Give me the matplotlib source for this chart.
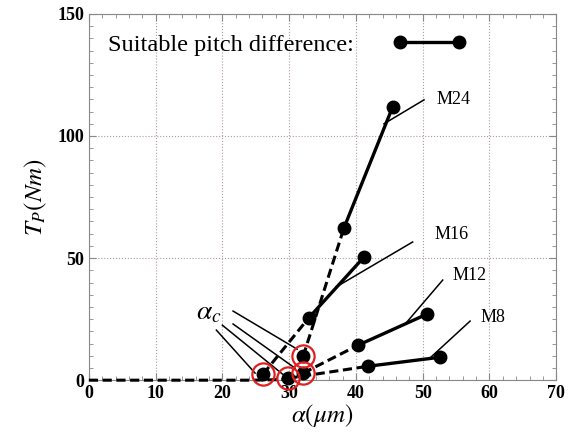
import matplotlib.pyplot as plt
from matplotlib.lines import Line2D
from matplotlib.ticker import MultipleLocator

# series data: alpha (um) and Tp (Nm)
names = ["M24", "M16", "M12", "M8"]
alpha_c = [32.1, 26.1, 32.1, 29.9]
tp_c = [9.8, 2.5, 2.9, 0.8]
alpha_pts = [[38.2, 45.5], [32.9, 41.2], [40.3, 50.6], [41.8, 52.6]]
tp_pts = [[62.3, 111.9], [25.4, 50.4], [14.3, 27.0], [5.7, 9.4]]
# thin extension lines
ext_alpha = [[44.2, 50.2], [37.0, 48.5], [47.5, 53.0], [50.9, 57.1]]
ext_tp = [[105.0, 114.8], [38.1, 56.6], [23.4, 41.0], [8.6, 24.2]]
label_pos = [(52.0, 114.8), (51.7, 59.8), (54.5, 43.0), (58.7, 25.8)]

base_alpha = [0, 24.5, 29.9]
base_tp = [0, 0, 0.3]

# alpha_c annotation lines
ann_start = [(21.6, 28.3), (21.6, 23.0), (20.0, 22.5), (19.1, 20.5)]
ann_end = [(31.2, 12.7), (30.9, 4.9), (29.0, 2.5), (24.9, 2.9)]

plt.rcParams['font.family'] = ['Liberation Serif', 'DejaVu Serif']
plt.rcParams['mathtext.fontset'] = 'stix'

fig = plt.figure(figsize=(5.77, 4.34), dpi=100)
ax = fig.add_axes([0.154, 0.124, 0.81, 0.844])

ax.plot(base_alpha, base_tp, color='black', ls=(0, (3, 1.5)), lw=2.2,
        zorder=3, clip_on=False)

for i in range(len(names)):
    ax.plot([alpha_c[i], alpha_pts[i][0]], [tp_c[i], tp_pts[i][0]],
            color='black', ls=(0, (3, 1.5)), lw=2.2, zorder=3)
    ax.plot(alpha_pts[i], tp_pts[i], color='black', lw=2.4, marker='o',
            ms=9, zorder=4)
    ax.plot(ext_alpha[i], ext_tp[i], color='black', lw=1.1, zorder=3)
    ax.plot(alpha_c[i], tp_c[i], 'o', color='black', ms=9, zorder=5,
            clip_on=False)
    ax.plot(alpha_c[i], tp_c[i], 'o', mfc='none', mec='#e02020', ms=16,
            mew=1.6, zorder=6, clip_on=False)
    ax.text(label_pos[i][0], label_pos[i][1], names[i], fontsize=13,
            va='center', ha='left')

for (x0, y0), (x1, y1) in zip(ann_start, ann_end):
    ax.plot([x0, x1], [y0, y1], color='black', lw=1.1, zorder=2)
ax.text(16.0, 27.5, r'$\alpha_c$', fontsize=20, va='center', ha='left')

ax.set_xlim(0, 70)
ax.set_ylim(0, 150)
ax.xaxis.set_major_locator(MultipleLocator(10))
ax.xaxis.set_minor_locator(MultipleLocator(2))
ax.yaxis.set_major_locator(MultipleLocator(50))
ax.yaxis.set_minor_locator(MultipleLocator(5))
ax.tick_params(which='both', direction='in', top=True, right=True,
               color='#888888')
ax.tick_params(which='major', length=5)
ax.tick_params(which='minor', length=3)
for lab in ax.get_xticklabels() + ax.get_yticklabels():
    lab.set_fontweight('bold')
    lab.set_fontsize(13)
for s in ax.spines.values():
    s.set_color('#888888')
ax.grid(True, which='major', ls=':', color='#b09a9a', lw=0.8)
ax.set_axisbelow(True)

ax.set_xlabel(r'$\alpha(\mu m)$', fontsize=18, labelpad=0)
ax.set_ylabel(r'$T_P(Nm)$', fontsize=18, labelpad=6)

handle = Line2D([], [], color='black', lw=2.4, marker='o', ms=9)
ax.legend([handle], ['Suitable pitch difference:'], loc='upper left',
          markerfirst=False, frameon=False, numpoints=2, handlelength=3.0,
          fontsize=17.5, bbox_to_anchor=(-0.005, 1.005), handletextpad=1.6)

fig.savefig('out.png', dpi=100)
